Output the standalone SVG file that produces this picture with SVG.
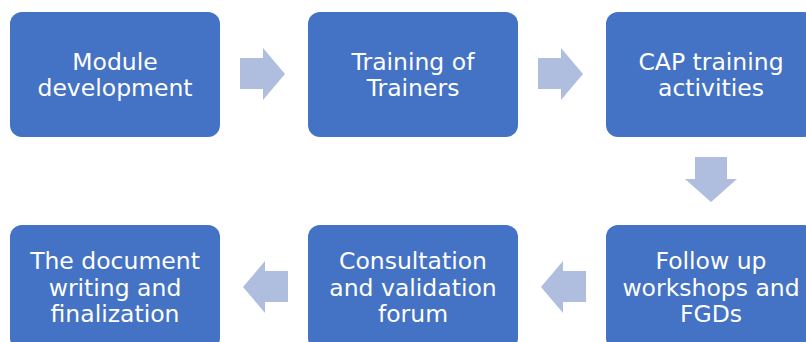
<svg xmlns="http://www.w3.org/2000/svg" width="806" height="342" viewBox="0 0 806 342">
  <style>
    .box { fill: #4472C4; }
    .lbl { fill: #FFFFFF; font-family: "DejaVu Sans", Verdana, sans-serif; font-size: 23.5px; text-anchor: middle; }
    .arr { fill: #AFBDDF; }
  </style>
  <rect width="806" height="342" fill="#FFFFFF"/>

  <g id="module-development">
    <rect class="box" x="10" y="12" width="210" height="125" rx="12"/>
    <text class="lbl" x="115" y="70">Module</text>
    <text class="lbl" x="115" y="96">development</text>
  </g>

  <g id="training-of-trainers">
    <rect class="box" x="308" y="12" width="210" height="125" rx="12"/>
    <text class="lbl" x="413" y="70">Training of</text>
    <text class="lbl" x="413" y="96">Trainers</text>
  </g>

  <g id="cap-training">
    <rect class="box" x="606" y="12" width="210" height="125" rx="12"/>
    <text class="lbl" x="711" y="70">CAP training</text>
    <text class="lbl" x="711" y="96">activities</text>
  </g>

  <g id="follow-up">
    <rect class="box" x="606" y="225" width="210" height="125" rx="12"/>
    <text class="lbl" x="711" y="269">Follow up</text>
    <text class="lbl" x="711" y="296">workshops and</text>
    <text class="lbl" x="711" y="322">FGDs</text>
  </g>

  <g id="consultation-forum">
    <rect class="box" x="308" y="225" width="210" height="125" rx="12"/>
    <text class="lbl" x="413" y="269">Consultation</text>
    <text class="lbl" x="413" y="296">and validation</text>
    <text class="lbl" x="413" y="322">forum</text>
  </g>

  <g id="document-writing">
    <rect class="box" x="10" y="225" width="210" height="125" rx="12"/>
    <text class="lbl" x="115" y="269">The document</text>
    <text class="lbl" x="115" y="296">writing and</text>
    <text class="lbl" x="115" y="322">finalization</text>
  </g>

  <g id="connectors">
    <polygon class="arr" points="240,58 263,58 263,48 285,74 263,100 263,89 240,89"/>
    <polygon class="arr" points="538,58 561,58 561,48 583,74 561,100 561,89 538,89"/>
    <polygon class="arr" points="695,157 727,157 727,179 737,179 711,202 685,179 695,179"/>
    <polygon class="arr" points="586,271 563,271 563,261 541,287 563,313 563,302 586,302"/>
    <polygon class="arr" points="288,271 265,271 265,261 243,287 265,313 265,302 288,302"/>
  </g>
</svg>
